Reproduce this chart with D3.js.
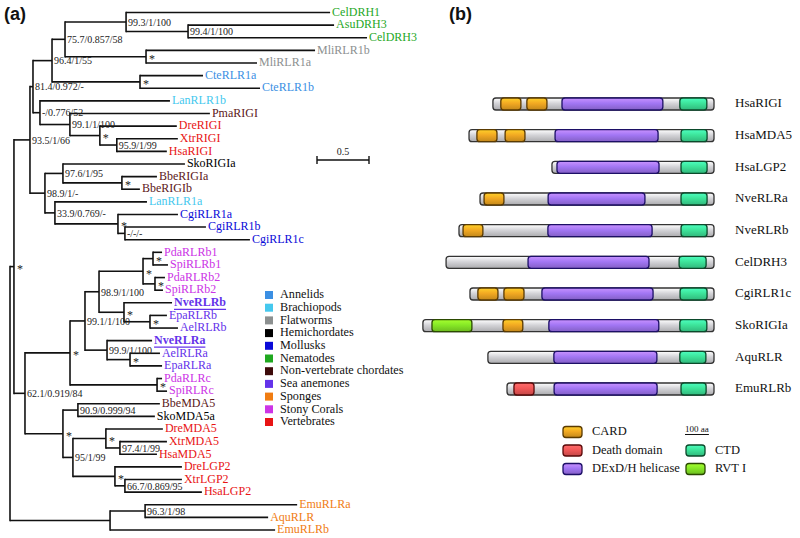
<!DOCTYPE html>
<html><head><meta charset="utf-8">
<script src="https://cdn.jsdelivr.net/npm/d3@7"></script>
<style>html,body{margin:0;padding:0;background:#fff;}svg{display:block;}</style>
</head><body>
<svg id="chart" width="800" height="538"></svg>
<script>
// ---------------- DATA ----------------
// Phylogeny (Newick, branch lengths in substitutions/site, internal labels = ML/BI/NJ support)
const treeNewick = `(
 (
  (
   (
    (
     (
      (CelDRH1:1.962,(AsuDRH3:1.404,CelDRH3:1.721)99.4/1/100:0.596)99.3/1/100:0.587,
      (MliRLR1b:1.625,MliRLR1a:1.067)*:0.779
     )75.7/0.857/58:0.125,
     (CteRLR1a:0.606,CteRLR1b:1.154)*:0.846
    )96.4/1/55:0.183,
    (LanRLR1b:1.25,(PmaRIGI:1.346,(DreRIGI:0.740,(XtrRIGI:0.587,HsaRIGI:0.481)95.9/1/99:0.163)*:0.288)99.1/1/100:0.288)-/0.776/52:0.067
   )81.4/0.972/-:0.029,
   (
    (SkoRIGIa:1.173,(BbeRIGIa:0.337,BbeRIGIb:0.173)*:0.567)97.6/1/95:0.173,
    (LanRLR1a:0.885,(CgiRLR1a:0.577,(CgiRLR1b:0.779,CgiRLR1c:1.202)-/-/-:0.067)*:0.606)33.9/0.769/-:0.096
   )98.9/1/-:0.144
  )93.5/1/66:0.154,
  (
   (
    (
     (
      ((PdaRLRb1:0.087,SpiRLRb1:0.144)*:0.096,(PdaRLRb2:0.096,SpiRLRb2:0.077)*:0.115)*:0.423,
      (NveRLRb:0.462,(EpaRLRb:0.163,AelRLRb:0.269)*:0.25)*:0.240
     )98.9/1/100:0.135,
     (NveRLRa:0.433,(AelRLRa:0.288,EpaRLRa:0.308)*:0.221)99.9/1/100:0.212
    )99.1/1/100:0.144,
    (PdaRLRc:0.048,SpiRLRc:0.096)*:0.837
   )*:0.433,
   (
    (BbeMDA5:0.788,SkoMDA5a:0.740)90.9/0.999/94:0.144,
    (
     (DreMDA5:0.548,(XtrMDA5:0.452,HsaMDA5:0.356)97.4/1/99:0.135)*:0.317,
     (DreLGP2:0.644,(XtrLGP2:0.548,HsaLGP2:0.740)66.7/0.869/95:0.096)*:0.404
    )95/1/99:0.096
   )*:0.365
  )62.1/0.919/84:0.106
 )*:0.038,
 ((EmuRLRa:1.462,AquRLR:1.183)96.3/1/98:0.337,EmuRLRb:1.587):0.962
);`;

const taxonGroups = ["Annelids","Brachiopods","Flatworms","Hemichordates","Mollusks","Nematodes",
  "Non-vertebrate chordates","Sea anemones","Sponges","Stony Corals","Vertebrates"];
const groupColors = ["#3b8fe3","#45c8ee","#8c9090","#000000","#0a0ad8","#1fa81f",
  "#3d0a0a","#6433ea","#f07c12","#cc34e6","#e81414"];
const groupMembers = {
  "Annelids": ["CteRLR1a","CteRLR1b"],
  "Brachiopods": ["LanRLR1b","LanRLR1a"],
  "Flatworms": ["MliRLR1b","MliRLR1a"],
  "Hemichordates": ["SkoRIGIa","SkoMDA5a"],
  "Mollusks": ["CgiRLR1a","CgiRLR1b","CgiRLR1c"],
  "Nematodes": ["CelDRH1","AsuDRH3","CelDRH3"],
  "Non-vertebrate chordates": ["PmaRIGI","BbeRIGIa","BbeRIGIb","BbeMDA5"],
  "Sea anemones": ["NveRLRb","EpaRLRb","AelRLRb","NveRLRa","AelRLRa","EpaRLRa"],
  "Sponges": ["EmuRLRa","AquRLR","EmuRLRb"],
  "Stony Corals": ["PdaRLRb1","SpiRLRb1","PdaRLRb2","SpiRLRb2","PdaRLRc","SpiRLRc"],
  "Vertebrates": ["DreRIGI","XtrRIGI","HsaRIGI","DreMDA5","XtrMDA5","HsaMDA5","DreLGP2","XtrLGP2","HsaLGP2"]
};
const highlighted = ["NveRLRb","NveRLRa"];
const scaleBarValue = 0.5;

// Domain architecture
const proteins = ["HsaRIGI","HsaMDA5","HsaLGP2","NveRLRa","NveRLRb","CelDRH3","CgiRLR1c","SkoRIGIa","AquRLR","EmuRLRb"];
const proteinLengths = [925,1025,678,979,1067,1121,1021,1218,946,866];
const domainTypes = ["CARD","Death domain","DExD/H helicase","CTD","RVT I"];
const domainSpans = [
  ["HsaRIGI","CARD",33,117],["HsaRIGI","CARD",142,226],["HsaRIGI","DExD/H helicase",289,711],["HsaRIGI","CTD",782,895],
  ["HsaMDA5","CARD",33,117],["HsaMDA5","CARD",151,234],["HsaMDA5","DExD/H helicase",360,791],["HsaMDA5","CTD",887,996],
  ["HsaLGP2","DExD/H helicase",21,448],["HsaLGP2","CTD",540,649],
  ["NveRLRa","CARD",17,100],["NveRLRa","DExD/H helicase",285,690],["NveRLRa","CTD",841,950],
  ["NveRLRb","CARD",17,100],["NveRLRb","DExD/H helicase",372,808],["NveRLRb","CTD",929,1038],
  ["CelDRH3","DExD/H helicase",343,849],["CelDRH3","CTD",975,1088],
  ["CgiRLR1c","CARD",33,117],["CgiRLR1c","CARD",142,226],["CgiRLR1c","DExD/H helicase",301,766],["CgiRLR1c","CTD",879,992],
  ["SkoRIGIa","RVT I",38,205],["SkoRIGIa","CARD",335,418],["SkoRIGIa","DExD/H helicase",527,987],["SkoRIGIa","CTD",1075,1188],
  ["AquRLR","DExD/H helicase",276,707],["AquRLR","CTD",803,912],
  ["EmuRLRb","Death domain",29,113],["EmuRLRb","DExD/H helicase",197,628],["EmuRLRb","CTD",728,833]
];
const aaScaleBar = 100;

// ---------------- STYLE ----------------
const serif = "'Liberation Serif','Times New Roman',serif";
const sans = "'Liberation Sans',Arial,sans-serif";
const domainFill = {"CARD":"#f2a922","Death domain":"#f25858","DExD/H helicase":"#a276f4","CTD":"#3de49a","RVT I":"#86e826","bar":"#d4d4d8"};
const domainStroke = {"CARD":"#5a3a00","Death domain":"#5a0a0a","DExD/H helicase":"#1c0f66","CTD":"#0b4a2b","RVT I":"#2b4a00","bar":"#333333"};

// ---------------- PARSE ----------------
function parseNewick(str){
  const s = str.replace(/\s+/g,"");
  let i = 0;
  function node(){
    const n = {children:[]};
    if (s[i] === "("){
      i++;
      n.children.push(node());
      while (s[i] === ","){ i++; n.children.push(node()); }
      i++; // ')'
    }
    let name = "";
    while (i < s.length && !",):;".includes(s[i])) name += s[i++];
    n.name = name;
    n.length = 0;
    if (s[i] === ":"){
      i++; let l = "";
      while (i < s.length && !",);".includes(s[i])) l += s[i++];
      n.length = +l;
    }
    return n;
  }
  return node();
}

const leafColor = {};
taxonGroups.forEach((g,k) => groupMembers[g].forEach(n => leafColor[n] = groupColors[k]));
leafColor["PmaRIGI"] = leafColor["BbeRIGIa"] = leafColor["BbeRIGIb"] = leafColor["BbeMDA5"] = "#5c1818";

const svg = d3.select("#chart");

// ---------------- PANEL (a): TREE ----------------
const root = d3.hierarchy(parseNewick(treeNewick), d => d.children.length ? d.children : null);
root.eachBefore(d => d.dist = d.parent ? d.parent.dist + d.data.length : 0);
const leaves = root.leaves();
const yTree = d3.scalePoint().domain(leaves.map(d => d.data.name)).range([12.5, 530]);
const xTree = d3.scaleLinear().domain([0, 1]).range([10, 114]);
root.eachAfter(d => {
  d.y = d.children ? (d.children[0].y + d.children[d.children.length-1].y)/2 : yTree(d.data.name);
  d.x = xTree(d.dist);
});

const gT = svg.append("g");
gT.selectAll("line.h").data(root.descendants().filter(d => d.parent)).join("line")
  .attr("class","h")
  .attr("x1", d => d.parent.x).attr("x2", d => d.x)
  .attr("y1", d => d.y).attr("y2", d => d.y)
  .attr("stroke","#111").attr("stroke-width",1.6);
gT.selectAll("line.v").data(root.descendants().filter(d => d.children)).join("line")
  .attr("class","v")
  .attr("x1", d => d.x).attr("x2", d => d.x)
  .attr("y1", d => d.children[0].y).attr("y2", d => d.children[d.children.length-1].y)
  .attr("stroke","#111").attr("stroke-width",1.6).attr("stroke-linecap","square");

const internal = root.descendants().filter(d => d.children && d.data.name);
gT.selectAll("text.sup").data(internal).join("text")
  .attr("class","sup")
  .attr("x", d => d.x + (d.data.name === "*" ? 3 : 2))
  .attr("y", d => d.data.name === "*" ? d.y + 6.5 : d.y + 1.5)
  .attr("dominant-baseline", d => d.data.name === "*" ? "auto" : "middle")
  .attr("font-family", serif).attr("font-size", d => d.data.name === "*" ? 12 : 10)
  .attr("fill","#222")
  .text(d => d.data.name);

const leafText = gT.selectAll("text.leaf").data(leaves).join("text")
  .attr("class","leaf")
  .attr("x", d => d.x + 2).attr("y", d => d.y + 0.5)
  .attr("dominant-baseline","middle")
  .attr("font-family", serif).attr("font-size", 12)
  .attr("font-weight", d => highlighted.includes(d.data.name) ? "bold" : "normal")
  .attr("fill", d => leafColor[d.data.name] || "#000")
  .text(d => d.data.name);
leafText.filter(d => highlighted.includes(d.data.name)).each(function(d){
  const w = this.getComputedTextLength();
  gT.append("line").attr("x1", d.x + 2).attr("x2", d.x + 2 + w)
    .attr("y1", d.y + 6.5).attr("y2", d.y + 6.5)
    .attr("stroke", leafColor[d.data.name]).attr("stroke-width", 1.2);
});

// scale bar
const sbX = 317, sbY = 160, sbW = xTree(scaleBarValue) - xTree(0);
const gSB = svg.append("g");
gSB.append("line").attr("x1",sbX).attr("x2",sbX+sbW).attr("y1",sbY).attr("y2",sbY).attr("stroke","#111").attr("stroke-width",1.6);
[sbX, sbX+sbW].forEach(x => gSB.append("line").attr("x1",x).attr("x2",x).attr("y1",sbY-4).attr("y2",sbY+4).attr("stroke","#111").attr("stroke-width",1.4));
gSB.append("text").attr("x", sbX+sbW/2).attr("y", sbY-5).attr("text-anchor","middle")
  .attr("font-family",serif).attr("font-size",10).attr("fill","#222").text(String(scaleBarValue));

// taxon legend
const yLeg = d3.scalePoint().domain(taxonGroups).range([295, 422]);
const gL = svg.append("g");
gL.selectAll("rect").data(taxonGroups).join("rect")
  .attr("x",265).attr("y", d => yLeg(d)-4).attr("width",8).attr("height",8)
  .attr("fill",(d,k) => groupColors[k]);
gL.selectAll("text").data(taxonGroups).join("text")
  .attr("x",280).attr("y", d => yLeg(d)+0.5).attr("dominant-baseline","middle")
  .attr("font-family",serif).attr("font-size",12.2).attr("fill","#111").text(d => d);

// panel letters
svg.append("text").attr("x",4).attr("y",20).attr("font-family",sans).attr("font-size",18).attr("font-weight","bold").attr("fill","#111").text("(a)");
svg.append("text").attr("x",449).attr("y",20).attr("font-family",sans).attr("font-size",18).attr("font-weight","bold").attr("fill","#111").text("(b)");

// ---------------- PANEL (b): DOMAINS ----------------
const defs = svg.append("defs");
Object.keys(domainFill).forEach(key => {
  const c = d3.color(domainFill[key]);
  const g = defs.append("linearGradient").attr("id","grad-"+key.replace(/[^A-Za-z]/g,""))
    .attr("x1",0).attr("x2",0).attr("y1",0).attr("y2",1);
  g.append("stop").attr("offset","0%").attr("stop-color", c.brighter(0.6));
  g.append("stop").attr("offset","45%").attr("stop-color", c);
  g.append("stop").attr("offset","100%").attr("stop-color", c.darker(0.6));
});
const gradId = key => "url(#grad-" + key.replace(/[^A-Za-z]/g,"") + ")";

const barRight = 714, barH = 12;
const pxPerAa = d3.scaleLinear().domain([0, aaScaleBar]).range([0, 23.9]);
const yDom = d3.scalePoint().domain(proteins).range([104, 389]);
const lenOf = {}; proteins.forEach((p,k) => lenOf[p] = proteinLengths[k]);
const xOf = (p, aa) => barRight - pxPerAa(lenOf[p] - aa);

const gD = svg.append("g");
gD.selectAll("rect.bar").data(proteins).join("rect")
  .attr("class","bar")
  .attr("x", p => xOf(p,0)).attr("width", p => pxPerAa(lenOf[p]))
  .attr("y", p => yDom(p) - barH/2).attr("height", barH)
  .attr("rx",3).attr("fill", gradId("bar")).attr("stroke", domainStroke.bar).attr("stroke-width",1.3);
gD.selectAll("rect.dom").data(domainSpans).join("rect")
  .attr("class","dom")
  .attr("x", d => xOf(d[0], d[2])).attr("width", d => pxPerAa(d[3]-d[2]))
  .attr("y", d => yDom(d[0]) - barH/2).attr("height", barH)
  .attr("rx",3).attr("fill", d => gradId(d[1])).attr("stroke", d => domainStroke[d[1]]).attr("stroke-width",1.3);
gD.selectAll("text").data(proteins).join("text")
  .attr("x",735).attr("y", p => yDom(p)+0.5).attr("dominant-baseline","middle")
  .attr("font-family",serif).attr("font-size",13).attr("fill","#111").text(p => p);

// domain legend
const legendLeft = ["CARD","Death domain","DExD/H helicase"];
const legendRight = ["CTD","RVT I"];
const yDL = d3.scalePoint().domain([0,1,2]).range([432, 469]);
const gDL = svg.append("g");
function legendItem(type, x, y){
  gDL.append("rect").attr("x",x).attr("y",y-5.5).attr("width",19).attr("height",11).attr("rx",3)
    .attr("fill",gradId(type)).attr("stroke",domainStroke[type]).attr("stroke-width",1.3);
  gDL.append("text").attr("x",x+29).attr("y",y+0.5).attr("dominant-baseline","middle")
    .attr("font-family",serif).attr("font-size",12.5).attr("fill","#111").text(type);
}
legendLeft.forEach((t,k) => legendItem(t, 563, yDL(k)));
legendRight.forEach((t,k) => legendItem(t, 686, yDL(k+1)));
const sW = pxPerAa(aaScaleBar);
gDL.append("text").attr("x",685 + sW/2).attr("y",432).attr("text-anchor","middle")
  .attr("font-family",serif).attr("font-size",9).attr("fill","#111").text(aaScaleBar + " aa");
gDL.append("line").attr("x1",685).attr("x2",685+sW).attr("y1",434.5).attr("y2",434.5).attr("stroke","#111").attr("stroke-width",1);
</script>
</body></html>
